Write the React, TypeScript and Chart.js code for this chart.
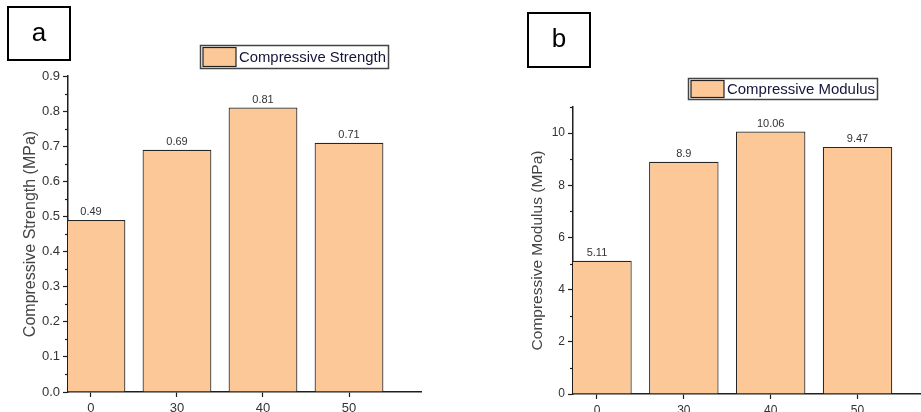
import React, { useEffect, useRef } from "react";
import { Chart, registerables } from "chart.js";

Chart.register(...registerables);

const categories = ["0", "30", "40", "50"];
const strengthValues = [0.49, 0.69, 0.81, 0.71];
const modulusValues = [5.11, 8.9, 10.06, 9.47];
const strengthLabel = "Compressive Strength";
const modulusLabel = "Compressive Modulus";
const strengthAxisTitle = "Compressive Strength (MPa)";
const modulusAxisTitle = "Compressive Modulus (MPa)";

const FONT = "'Liberation Sans', Arial, sans-serif";
const BAR_FILL = "#FCC897";
const BAR_EDGE = "#262626";
const AXIS = "#1f1f1f";

type PanelSpec = {
  panel: string;
  values: number[];
  label: string;
  axisTitle: string;
  yMax: number;
  yStep: number;
  yDecimals: number;
  xMin: number;
  xMax: number;
  padding: { left: number; top: number; right: number; bottom: number };
  yWidth: number;
  xHeight: number;
  titlePad: number;
  titleSize: number;
  tickSize: number;
  legendBox: { x: number; y: number; w: number; h: number };
  panelBox: { x: number; y: number; w: number; h: number };
};

const decorPlugin = {
  id: "decor",
  afterDraw(chart: any, _args: any, opts: any) {
    const spec: PanelSpec = opts.spec;
    const ctx = chart.ctx;
    const area = chart.chartArea;
    const y = chart.scales.y;
    ctx.save();
    // minor ticks
    ctx.strokeStyle = AXIS;
    ctx.lineWidth = 1.2;
    for (let v = spec.yStep / 2; v <= spec.yMax + 1e-9; v += spec.yStep) {
      const py = Math.round(y.getPixelForValue(v)) + 0.5;
      ctx.beginPath();
      ctx.moveTo(area.left, py);
      ctx.lineTo(area.left - 3, py);
      ctx.stroke();
    }
    // value labels
    const meta = chart.getDatasetMeta(0);
    ctx.fillStyle = "#333";
    ctx.font = `11px ${FONT}`;
    ctx.textAlign = "center";
    ctx.textBaseline = "bottom";
    meta.data.forEach((el: any, i: number) => {
      ctx.fillText(String(spec.values[i]), el.x, el.y - 2);
    });
    // legend
    const lb = spec.legendBox;
    ctx.fillStyle = "#fff";
    ctx.fillRect(lb.x, lb.y, lb.w, lb.h);
    ctx.strokeStyle = "#444";
    ctx.lineWidth = 1.5;
    ctx.strokeRect(lb.x + 0.5, lb.y + 0.5, lb.w, lb.h);
    ctx.fillStyle = BAR_FILL;
    ctx.fillRect(lb.x + 3, lb.y + 2.5, 33, lb.h - 4);
    ctx.strokeStyle = "#222";
    ctx.lineWidth = 1.2;
    ctx.strokeRect(lb.x + 3, lb.y + 2.5, 33, lb.h - 4);
    ctx.fillStyle = "#14143a";
    ctx.font = `15px ${FONT}`;
    ctx.textAlign = "left";
    ctx.textBaseline = "middle";
    ctx.fillText(spec.label, lb.x + 39, lb.y + lb.h / 2 + 1, lb.w - 41);
    // panel letter
    const pb = spec.panelBox;
    ctx.strokeStyle = "#000";
    ctx.lineWidth = 2;
    ctx.strokeRect(pb.x, pb.y, pb.w, pb.h);
    ctx.fillStyle = "#000";
    ctx.font = `26px ${FONT}`;
    ctx.textAlign = "center";
    ctx.textBaseline = "middle";
    ctx.fillText(spec.panel, pb.x + pb.w / 2, pb.y + pb.h / 2);
    ctx.restore();
  },
};

function makeConfig(spec: PanelSpec): any {
  return {
    type: "bar",
    data: {
      datasets: [
        {
          label: spec.label,
          data: spec.values.map((v, i) => ({ x: i, y: v })),
          backgroundColor: BAR_FILL,
          borderColor: BAR_EDGE,
          borderWidth: 1.2,
          borderSkipped: "bottom",
          barPercentage: 0.8,
          categoryPercentage: 1,
          clip: 0,
        },
      ],
    },
    options: {
      animation: false,
      responsive: false,
      devicePixelRatio: 1,
      layout: { padding: spec.padding },
      plugins: {
        legend: { display: false },
        tooltip: { enabled: false },
        decor: { spec },
      },
      scales: {
        x: {
          type: "linear",
          offset: false,
          min: spec.xMin,
          max: spec.xMax,
          afterFit: (s: any) => {
            s.height = spec.xHeight;
          },
          ticks: {
            stepSize: 1,
            includeBounds: false,
            autoSkip: false,
            maxRotation: 0,
            padding: 4,
            color: "#333",
            font: { family: FONT, size: spec.tickSize },
            callback: (v: number) => {
              const i = Math.round(v);
              return Math.abs(v - i) < 1e-6 && i >= 0 && i < categories.length ? categories[i] : "";
            },
          },
          grid: {
            offset: false,
            drawOnChartArea: false,
            drawTicks: true,
            tickLength: 5,
            tickColor: AXIS,
            tickWidth: 1.2,
          },
          border: { display: true, color: AXIS, width: 1.5 },
        },
        y: {
          type: "linear",
          min: 0,
          max: spec.yMax,
          afterFit: (s: any) => {
            s.width = spec.yWidth;
          },
          ticks: {
            stepSize: spec.yStep,
            includeBounds: false,
            padding: 3,
            color: "#333",
            font: { family: FONT, size: spec.tickSize },
            callback: (v: number) => v.toFixed(spec.yDecimals),
          },
          grid: {
            drawOnChartArea: false,
            drawTicks: true,
            tickLength: 5,
            tickColor: AXIS,
            tickWidth: 1.2,
          },
          border: { display: true, color: AXIS, width: 1.5 },
          title: {
            display: true,
            text: spec.axisTitle,
            color: "#444",
            font: { family: FONT, size: spec.titleSize },
            padding: { top: spec.titlePad, bottom: 0 },
          },
        },
      },
    },
    plugins: [decorPlugin],
  };
}

const specA: PanelSpec = {
  panel: "a",
  values: strengthValues,
  label: strengthLabel,
  axisTitle: strengthAxisTitle,
  yMax: 0.9,
  yStep: 0.1,
  yDecimals: 1,
  xMin: -0.267,
  xMax: 3.837,
  padding: { left: 0, top: 76, right: 39, bottom: 0 },
  yWidth: 68,
  xHeight: 20,
  titlePad: 21,
  titleSize: 16,
  tickSize: 13,
  legendBox: { x: 200, y: 45, w: 188, h: 23 },
  panelBox: { x: 8, y: 7, w: 62, h: 53 },
};

const specB: PanelSpec = {
  panel: "b",
  values: modulusValues,
  label: modulusLabel,
  axisTitle: modulusAxisTitle,
  yMax: 11,
  yStep: 2,
  yDecimals: 0,
  xMin: -0.276,
  xMax: 3.731,
  padding: { left: 0, top: 107, right: 0, bottom: 0 },
  yWidth: 113,
  xHeight: 18,
  titlePad: 68,
  titleSize: 15.5,
  tickSize: 12,
  legendBox: { x: 228, y: 78, w: 189, h: 21 },
  panelBox: { x: 68, y: 13, w: 62, h: 54 },
};

function Panel({ spec, left, width }: { spec: PanelSpec; left: number; width: number }) {
  const ref = useRef<HTMLCanvasElement | null>(null);
  useEffect(() => {
    if (!ref.current) return;
    const chart = new Chart(ref.current, makeConfig(spec));
    return () => chart.destroy();
  }, [spec]);
  return (
    <canvas
      ref={ref}
      width={width}
      height={412}
      style={{ position: "absolute", left, top: 0, width, height: 412 }}
    />
  );
}

export default function App() {
  return (
    <div
      style={{
        position: "absolute",
        left: 0,
        top: 0,
        width: 921,
        height: 412,
        overflow: "hidden",
        background: "#fff",
      }}
    >
      <Panel spec={specA} left={0} width={460} />
      <Panel spec={specB} left={460} width={461} />
    </div>
  );
}
